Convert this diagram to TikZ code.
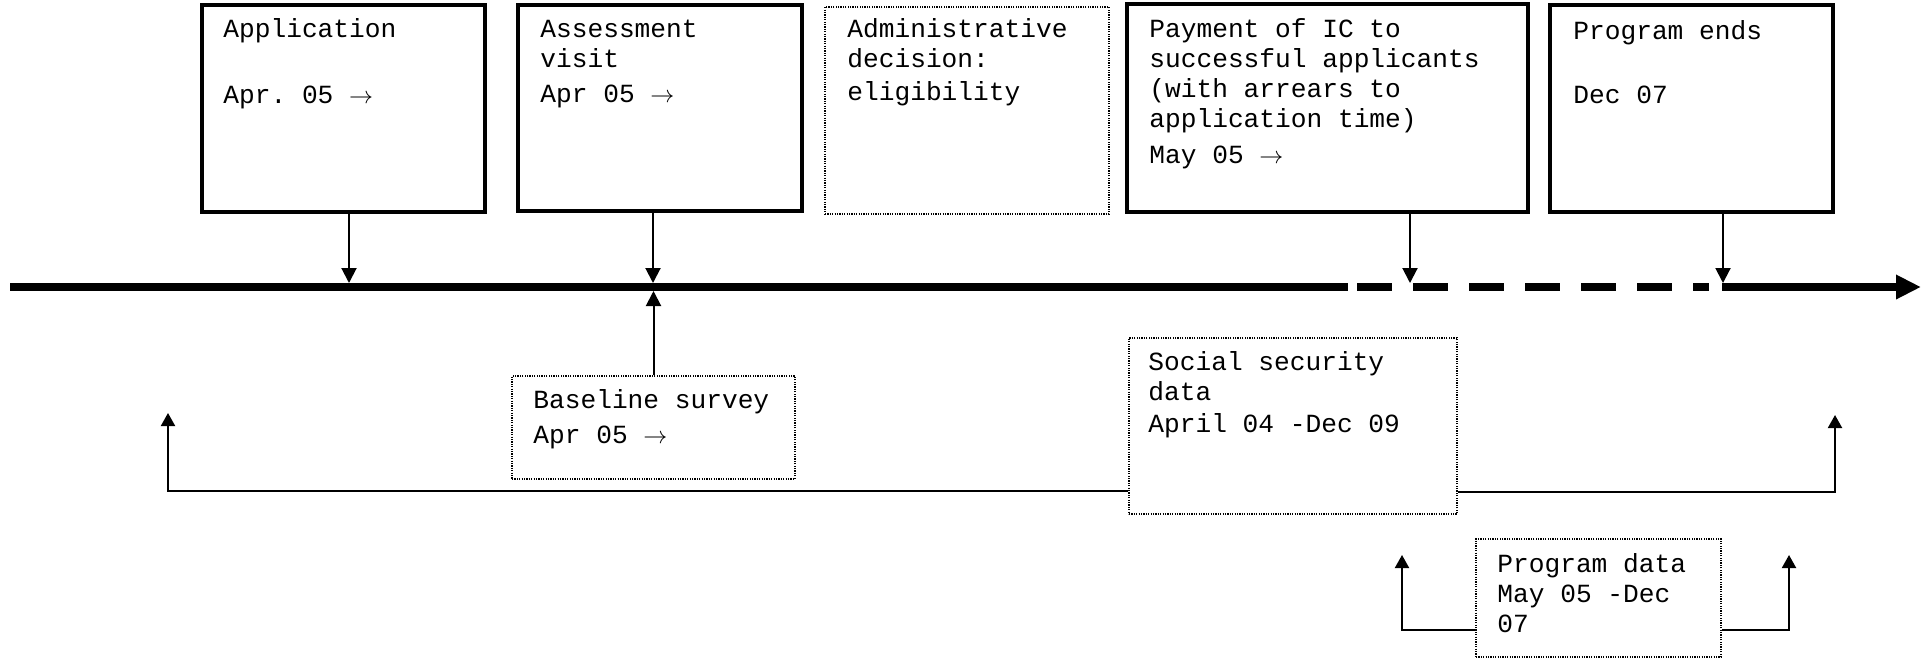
\documentclass[tikz,border=0pt]{standalone}
\usepackage{fontspec}
\setmonofont{Liberation Mono}
\usetikzlibrary{arrows.meta,fit,calc}
\newcommand{\rarr}{\ensuremath{\rightarrow}}
\begin{document}
\begin{tikzpicture}[x=0.5pt,y=-0.5pt,
  evbox/.style={draw, line width=2pt, inner sep=0pt},
  dotbox/.style={draw, line width=0.6pt, dash pattern=on 0.6pt off 0.6pt, inner sep=0pt},
  txt/.style={anchor=base west, inner sep=0pt, font=\ttfamily\fontsize{13.1}{15}\selectfont},
  conn/.style={line width=1pt, -{Triangle[length=7.5pt,width=7.5pt]}},
  brk/.style={line width=1pt, -{Triangle[length=6.5pt,width=7pt]}},
  tline/.style={line width=4pt},
]
\useasboundingbox (0,0) rectangle (1923,660);

% event boxes
\node[evbox, fit={(202,5) (485,212)}] (app) {};
\node[evbox, fit={(518,5) (802,211)}] (ass) {};
\node[dotbox, fit={(825,7) (1109,214)}] (adm) {};
\node[evbox, fit={(1127,4) (1528,212)}] (pay) {};
\node[evbox, fit={(1550,5) (1833,212)}] (end) {};
% data boxes
\node[dotbox, fit={(512,376) (795,479)}] (base) {};
\node[dotbox, fit={(1129,338) (1457,514)}] (ss) {};
\node[dotbox, fit={(1476,539) (1721,657)}] (pd) {};

% texts
\node[txt] (app-t) at (223,37) {\parbox[t]{300pt}{Application\\[18pt]Apr. 05 \rarr}};
\node[txt] (ass-t) at (540,37) {\parbox[t]{300pt}{Assessment\\visit\\[2.5pt]Apr 05 \rarr}};
\node[txt] (adm-t) at (847,37) {\parbox[t]{300pt}{Administrative\\decision:\\[1.5pt]eligibility}};
\node[txt] (pay-t) at (1149,37) {\parbox[t]{300pt}{Payment of IC to\\successful applicants\\(with arrears to\\application time)\\[3pt]May 05 \rarr}};
\node[txt] (end-t) at (1573,39) {\parbox[t]{300pt}{Program ends\\[17pt]Dec 07}};
\node[txt] (base-t) at (533,408) {\parbox[t]{300pt}{Baseline survey\\[2.5pt]Apr 05 \rarr}};
\node[txt] (ss-t) at (1148,370) {\parbox[t]{300pt}{Social security\\data\\[1pt]April 04 -Dec 09}};
\node[txt] (pd-t) at (1497,572) {\parbox[t]{300pt}{Program data\\May 05 -Dec\\07}};

% timeline
\coordinate (tl-a) at (10,287);
\coordinate (tl-b) at (1348,287);
\coordinate (tl-c) at (1357,287);
\coordinate (tl-d) at (1709,287);
\coordinate (tl-e) at (1722,287);
\coordinate (tl-f) at (1921,287);
\draw[tline] (tl-a) -- (tl-b);
\draw[tline, dash pattern=on 17.5pt off 10.5pt] (tl-c) -- (tl-d);
\draw[tline, -{Triangle[length=12.5pt,width=11.5pt]}] (tl-e) -- (tl-f);

% connectors to the timeline
\coordinate (t-app) at (349,283);
\coordinate (t-ass) at (653,283);
\coordinate (t-pay) at (1410,283);
\coordinate (t-end) at (1723,283);
\coordinate (tl-bot) at (0,291);
\draw[conn] (app.south -| t-app) -- (t-app);
\draw[conn] (ass.south -| t-ass) -- (t-ass);
\draw[conn] (pay.south -| t-pay) -- (t-pay);
\draw[conn] (end.south -| t-end) -- (t-end);
\draw[conn] (base.north) -- (base.north |- tl-bot);

% brackets
\coordinate (ss-ly) at (0,491);
\coordinate (ss-ry) at (0,492);
\coordinate (ss-l) at (168,413);
\coordinate (ss-r) at (1835,415);
\draw[brk] (ss.west |- ss-ly) -| (ss-l);
\draw[brk] (ss.east |- ss-ry) -| (ss-r);
\coordinate (pd-y) at (0,630);
\coordinate (pd-l) at (1402,555);
\coordinate (pd-r) at (1789,555);
\draw[brk] (pd.west |- pd-y) -| (pd-l);
\draw[brk] (pd.east |- pd-y) -| (pd-r);
\end{tikzpicture}
\end{document}
